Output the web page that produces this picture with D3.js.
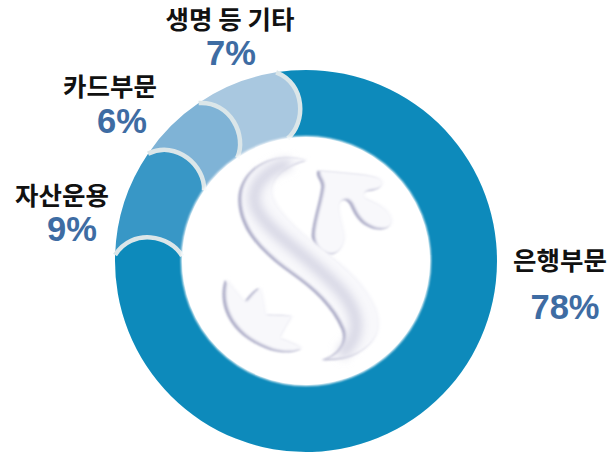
<!DOCTYPE html>
<html><head><meta charset="utf-8">
<script src="https://cdn.jsdelivr.net/npm/d3@7"></script>
<style>html,body{margin:0;padding:0;background:#fff}svg{display:block}</style>
</head><body><svg id="c" width="610" height="452"></svg>
<script>
const categories = ["은행부문","자산운용","카드부문","생명 등 기타"];
const shares = [78,9,6,7];
const shareLabels = ["78%","9%","6%","7%"];
const sliceColors = ["#0a8abb","#3797c6","#7fb3d6","#a9c8e0"];
const nameAnchors = [[560,263],[62,198],[110,89],[230,22]];
const shareAnchors = [[565,310],[72,232],[122,124],[231,56]];

const W=610,H=452,cx=306,cy=261,R=191,r0=124;
const svg=d3.select("#c");
const defs=svg.append("defs");
const blur=(id,s)=>defs.append("filter").attr("id",id).attr("x","-20%").attr("y","-20%").attr("width","140%").attr("height","140%")
  .append("feGaussianBlur").attr("stdDeviation",s);
blur("soft",0.7); blur("rim",1.2); blur("logoDark",3.5); blur("logoLight",5); blur("logoBand",14);

const deg=Math.PI/180;
const pie=d3.pie().sort(null).startAngle(-9*deg).endAngle(351*deg);
const arcs=pie(shares);
const pt=(rad,a)=>[cx+rad*Math.sin(a),cy-rad*Math.cos(a)];
const bulge=9*deg;

function endCurve(p,a,move){
  const c1=pt(R-14,a+bulge), c2=pt(r0+14,a+bulge), e=pt(r0,a+0.5*deg), s=pt(R,a);
  if(move) p.moveTo(s[0],s[1]);
  p.bezierCurveTo(c1[0],c1[1],c2[0],c2[1],e[0],e[1]);
}
function slicePath(d){
  const a0=d.startAngle,a1=d.endAngle,p=d3.path();
  const s=pt(R,a0);
  p.moveTo(s[0],s[1]);
  p.arc(cx,cy,R,a0-Math.PI/2,a1-Math.PI/2);
  endCurve(p,a1,false);
  p.arc(cx,cy,r0,a1+0.5*deg-Math.PI/2,a0+0.5*deg-Math.PI/2,true);
  const c2=pt(R-14,a0+bulge), c1=pt(r0+14,a0+bulge);
  p.bezierCurveTo(c1[0],c1[1],c2[0],c2[1],s[0],s[1]);
  p.closePath();
  return p.toString();
}
const ring=svg.append("g").attr("filter","url(#soft)");
ring.selectAll("path.slice").data(arcs).join("path").attr("class","slice")
  .attr("d",slicePath).attr("fill",(d,i)=>sliceColors[i]);
ring.selectAll("path.edge").data(arcs).join("path").attr("class","edge")
  .attr("d",d=>{const p=d3.path();endCurve(p,d.endAngle,true);return p.toString();})
  .attr("fill","none").attr("stroke","#dbe6e9").attr("stroke-width",4.5);

svg.append("circle").attr("cx",cx).attr("cy",cy).attr("r",r0-0.5).attr("fill","none")
  .attr("stroke","#fff").attr("stroke-width",3).attr("filter","url(#rim)");

const emblemShapes=[
 "M318,62 C270,45 195,50 150,95 C110,135 105,190 130,250 C150,300 200,350 270,400 C340,450 395,500 425,570 C440,610 410,645 365,660 C430,665 500,640 525,585 C545,530 510,470 460,415 C410,360 340,320 290,270 C245,225 205,185 212,145 C220,100 270,75 318,62 Z",
 "M352,92 C400,98 480,100 525,113 C552,124 548,148 510,152 C490,154 480,162 490,175 C520,190 565,205 570,245 C570,272 530,275 500,258 C475,245 462,222 450,195 C440,178 425,175 415,190 C405,205 420,245 428,285 C432,320 410,345 385,345 C355,340 335,320 335,285 C338,240 360,180 364,140 C364,120 345,110 352,92 Z",
 "M75,420 C95,445 115,470 130,487 C145,472 160,450 175,445 C185,470 188,505 192,525 C220,527 250,525 272,530 C260,550 245,575 235,595 C258,605 285,612 302,627 C280,640 245,640 210,630 C150,610 95,570 75,510 C65,480 65,445 75,420 Z"
];
const emblem=svg.append("g").attr("transform","translate(200,140) scale(0.3333)");
emblem.selectAll("path.shade").data(emblemShapes).join("path").attr("class","shade")
  .attr("d",d=>d).attr("fill","#a9a9c5").attr("filter","url(#logoDark)");
emblem.selectAll("path.light").data(emblemShapes).join("path").attr("class","light")
  .attr("d",d=>d).attr("transform","translate(9,-3)").attr("fill","#f8f8fb").attr("filter","url(#logoLight)");
emblem.append("path")
  .attr("d","M270,70 C200,85 150,140 165,195 C190,270 320,340 420,450 C480,520 490,590 420,645")
  .attr("fill","none").attr("stroke","#d6d6e4").attr("stroke-width",34).attr("filter","url(#logoBand)");

svg.selectAll("text.name").data(categories).join("text").attr("class","name")
  .attr("x",(d,i)=>nameAnchors[i][0]).attr("y",(d,i)=>nameAnchors[i][1])
  .attr("text-anchor","middle").attr("dominant-baseline","middle")
  .attr("font-family","'Noto Sans CJK KR'").attr("font-weight",700).attr("font-size",25.5)
  .attr("fill","#111").text(d=>d);
svg.selectAll("text.share").data(shareLabels).join("text").attr("class","share")
  .attr("x",(d,i)=>shareAnchors[i][0]).attr("y",(d,i)=>shareAnchors[i][1])
  .attr("text-anchor","middle").attr("dominant-baseline","middle")
  .attr("font-family","'Liberation Sans'").attr("font-weight",700).attr("font-size",34.5)
  .attr("fill","#3e6ca3").text(d=>d);
</script></body></html>
